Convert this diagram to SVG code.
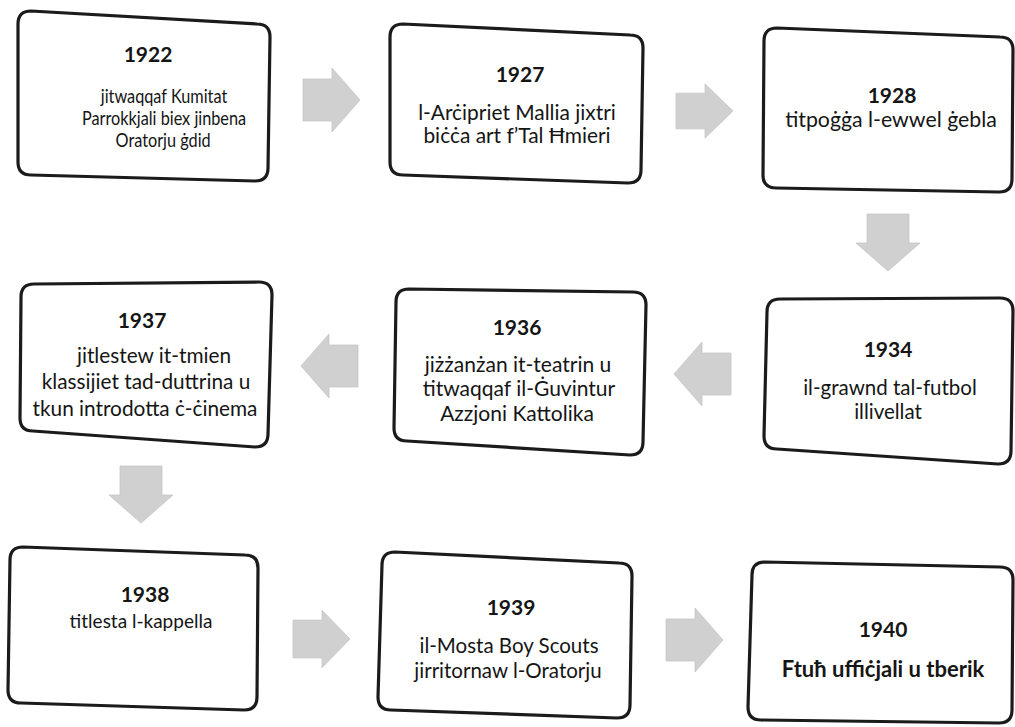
<svg xmlns="http://www.w3.org/2000/svg" width="1015" height="727" viewBox="0 0 1015 727">
<style>
.box{fill:#ffffff;stroke:#1b1b1b;stroke-width:3.2;stroke-linejoin:round}
.yr{font-family:Lato,"Liberation Sans",sans-serif;font-weight:bold;font-size:21px;fill:#151515;text-anchor:middle}
.tx{font-family:Lato,"Liberation Sans",sans-serif;font-size:20.5px;fill:#151515;text-anchor:middle}
.txb{font-family:Lato,"Liberation Sans",sans-serif;font-weight:bold;font-size:22px;fill:#151515;text-anchor:middle}
.arr{fill:#d0d0d0;stroke:#c6c6c6;stroke-width:0.8}
</style>
<defs>
<path id="ra" d="M-28,-21 H1 V-32 L29,0 L1,32 V21 H-28 Z"/>
</defs>
<rect width="1015" height="727" fill="#ffffff"/>
<g id="connectors">
<use href="#ra" class="arr" transform="translate(331,100)"/>
<use href="#ra" class="arr" transform="translate(704,111) scale(1,0.85)"/>
<use href="#ra" class="arr" transform="translate(888,242) rotate(90)"/>
<use href="#ra" class="arr" transform="translate(703,374) rotate(180)"/>
<use href="#ra" class="arr" transform="translate(330,366) rotate(180)"/>
<use href="#ra" class="arr" transform="translate(141,494) rotate(90)"/>
<use href="#ra" class="arr" transform="translate(321,639) scale(1,0.9)"/>
<use href="#ra" class="arr" transform="translate(694,640)"/>
</g>
<g id="n1922">
<path class="box" d="M31,11 L257,24 Q270,24 270,37 L268,168 Q268,181 255,181 L31,175 Q18,175 18,162 L18,24 Q18,11 31,11 Z"/>
<text class="yr" x="148" y="62">1922</text>
<g transform="translate(164,0) scale(0.88,1)">
<text class="tx" style="font-size:18.5px" x="0" y="103">jitwaqqaf Kumitat</text>
<text class="tx" style="font-size:18.5px" x="0" y="125">Parrokkjali biex jinbena</text>
<text class="tx" style="font-size:18.5px" x="-1" y="147">Oratorju ġdid</text>
</g>
</g>
<g id="n1927">
<path class="box" d="M403,24 L630,35 Q643,35 643,48 L641,170 Q641,183 628,183 L403,175 Q390,175 390,162 L390,37 Q390,24 403,24 Z"/>
<text class="yr" x="520" y="82">1927</text>
<text class="tx" style="font-size:20.9px" x="517" y="120">l-Arċipriet Mallia jixtri</text>
<text class="tx" style="font-size:20.9px" x="517" y="143">biċċa art f’Tal Ħmieri</text>
</g>
<g id="n1928">
<path class="box" d="M777,28 L1000,37 Q1013,37 1013,50 L1012,179 Q1012,192 999,192 L776,188 Q763,188 763,175 L764,41 Q764,28 777,28 Z"/>
<text class="yr" x="892" y="103">1928</text>
<text class="tx" style="font-size:21.3px" x="891" y="127">titpoġġa l-ewwel ġebla</text>
</g>
<g id="n1934">
<path class="box" d="M780,299 L1000,298 Q1013,298 1013,311 L1011,451 Q1011,464 998,464 L777,449 Q764,449 764,436 L767,312 Q767,299 780,299 Z"/>
<text class="yr" x="888" y="357">1934</text>
<text class="tx" x="890" y="395">il-grawnd tal-futbol</text>
<text class="tx" x="888" y="419">illivellat</text>
</g>
<g id="n1936">
<path class="box" d="M409,289 L633,292 Q646,292 646,305 L643,442 Q643,455 630,455 L407,441 Q394,441 394,428 L396,302 Q396,289 409,289 Z"/>
<text class="yr" x="517" y="335">1936</text>
<text class="tx" style="font-size:21px" x="518" y="372">jiżżanżan it-teatrin u</text>
<text class="tx" style="font-size:21px" x="519" y="396">titwaqqaf il-Ġuvintur</text>
<text class="tx" style="font-size:21px" x="517" y="421">Azzjoni Kattolika</text>
</g>
<g id="n1937">
<path class="box" d="M34,284 L259,282 Q272,282 272,295 L268,434 Q268,447 255,447 L33,431 Q20,431 20,418 L21,297 Q21,284 34,284 Z"/>
<text class="yr" x="142" y="328">1937</text>
<text class="tx" style="font-size:20.8px" x="154" y="363">jitlestew it-tmien</text>
<text class="tx" style="font-size:20.8px" x="146" y="389">klassijiet tad-duttrina u</text>
<text class="tx" style="font-size:20.8px" x="145" y="416">tkun introdotta ċ-ċinema</text>
</g>
<g id="n1938">
<path class="box" d="M23,547 L245,555 Q258,555 258,568 L257,697 Q257,710 244,710 L21,703 Q8,703 8,690 L10,560 Q10,547 23,547 Z"/>
<text class="yr" x="145" y="602">1938</text>
<text class="tx" style="font-size:19px" x="141" y="628">titlesta l-kappella</text>
</g>
<g id="n1939">
<path class="box" d="M395,552 L619,563 Q632,563 632,576 L630,705 Q630,718 617,718 L391,710 Q378,710 378,697 L382,565 Q382,552 395,552 Z"/>
<text class="yr" x="511" y="615">1939</text>
<text class="tx" x="509" y="653">il-Mosta Boy Scouts</text>
<text class="tx" x="508" y="678">jirritornaw l-Oratorju</text>
</g>
<g id="n1940">
<path class="box" d="M765,562 L1000,567 Q1013,567 1013,580 L1012,710 Q1012,723 999,723 L761,720 Q748,720 748,707 L752,575 Q752,562 765,562 Z"/>
<text class="yr" x="883" y="637">1940</text>
<text class="txb" x="883" y="677">Ftuħ uffiċjali u tberik</text>
</g>
</svg>
